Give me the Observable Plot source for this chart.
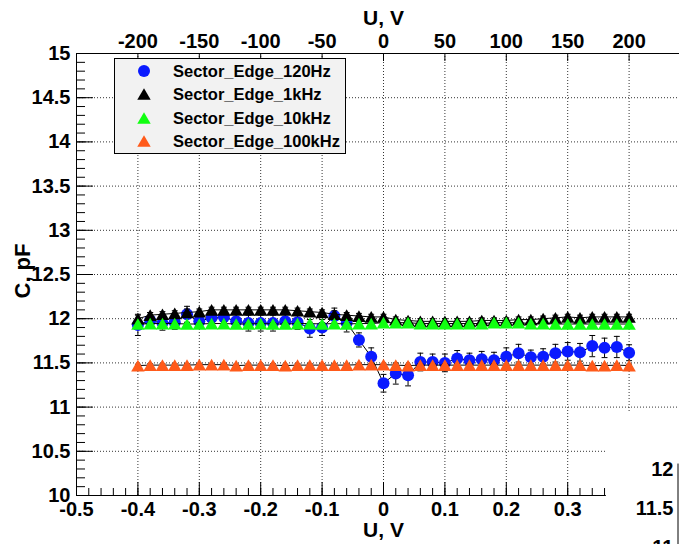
<!DOCTYPE html>
<html>
<head>
<meta charset="utf-8">
<script src="https://cdn.jsdelivr.net/npm/d3@7"></script>
<script src="https://cdn.jsdelivr.net/npm/@observablehq/plot@0.6"></script>
<style>
  html, body { margin: 0; padding: 0; background: #fff; overflow: hidden; }
  #wrap { position: relative; width: 679px; height: 544px; overflow: hidden;
          font-family: "Liberation Sans", Arial, sans-serif; font-weight: bold; }
  #main { position: absolute; left: 0; top: 0; }
  #legend { position: absolute; left: 114px; top: 58px; width: 232px; height: 96px;
            background: #f2f2f2; border: 1px solid #000; box-sizing: border-box; }
  .lrow { position: absolute; left: 0; height: 22px; width: 100%; }
  .lrow svg { position: absolute; left: 20px; top: 2px; }
  .lrow span { position: absolute; left: 58px; top: 0; line-height: 22px; font-size: 16.5px; color: #000; white-space: nowrap; }
  #pad2 { position: absolute; left: 607px; top: 413px; width: 72px; height: 131px; background: #fff; }
</style>
</head>
<body>
<div id="wrap">
  <div id="main"></div>
  <div id="legend"></div>
  <div id="pad2"></div>
</div>
<script>
// ---------------- data ----------------
const U = [-200,-190,-180,-170,-160,-150,-140,-130,-120,-110,-100,-90,-80,-70,-60,-50,-40,-30,-20,-10,
           0,10,20,30,40,50,60,70,80,90,100,110,120,130,140,150,160,170,180,190,200];

const c120 = [11.93,11.98,11.95,11.96,12.05,11.97,12.01,12.02,11.97,11.95,11.95,11.95,11.97,11.96,11.89,11.90,12.03,11.95,11.76,11.57,
              11.27,11.38,11.36,11.51,11.51,11.50,11.55,11.53,11.54,11.53,11.57,11.61,11.565,11.57,11.61,11.63,11.62,11.69,11.67,11.68,11.615];
const e120 = [0.12,0.09,0.08,0.08,0.09,0.08,0.08,0.07,0.08,0.09,0.09,0.09,0.08,0.08,0.10,0.09,0.09,0.10,0.08,0.10,
              0.10,0.12,0.12,0.10,0.09,0.10,0.09,0.08,0.09,0.09,0.10,0.10,0.08,0.09,0.10,0.10,0.10,0.12,0.11,0.12,0.09];

const c1k = [12.00,12.04,12.05,12.06,12.07,12.08,12.10,12.10,12.10,12.10,12.10,12.10,12.10,12.09,12.08,12.07,12.05,12.04,12.03,12.02,
             12.02,11.99,11.98,11.97,11.97,11.97,11.97,11.97,11.98,11.98,11.98,11.99,11.99,12.00,12.01,12.02,12.01,12.02,12.02,12.02,12.02];
const e1k = [0.04,0.03,0.03,0.03,0.04,0.03,0.03,0.03,0.03,0.03,0.03,0.03,0.03,0.03,0.03,0.03,0.04,0.03,0.03,0.03,
             0.03,0.03,0.03,0.03,0.03,0.03,0.03,0.03,0.03,0.03,0.03,0.03,0.03,0.03,0.03,0.03,0.03,0.03,0.03,0.03,0.03];

const c10k = [11.94,11.945,11.945,11.945,11.94,11.94,11.945,11.945,11.94,11.94,11.945,11.94,11.94,11.945,11.945,11.94,11.945,11.94,11.945,11.945,
              11.955,11.955,11.955,11.945,11.945,11.945,11.945,11.945,11.945,11.955,11.955,11.955,11.945,11.945,11.94,11.94,11.94,11.94,11.94,11.94,11.94];
const e10k = [0.015,0.015,0.015,0.015,0.015,0.015,0.015,0.015,0.015,0.015,0.015,0.015,0.015,0.015,0.015,0.015,0.015,0.015,0.015,0.015,
              0.015,0.015,0.015,0.015,0.015,0.015,0.015,0.015,0.015,0.015,0.015,0.015,0.015,0.015,0.015,0.015,0.015,0.015,0.015,0.015,0.015];

const c100k = [11.47,11.475,11.475,11.475,11.475,11.48,11.48,11.48,11.47,11.475,11.475,11.475,11.47,11.475,11.475,11.475,11.475,11.475,11.48,11.48,
               11.48,11.475,11.47,11.475,11.475,11.475,11.475,11.475,11.475,11.475,11.475,11.475,11.475,11.475,11.475,11.475,11.475,11.47,11.47,11.475,11.47];
const e100k = e10k;

const seriesNames = ["Sector_Edge_120Hz", "Sector_Edge_1kHz", "Sector_Edge_10kHz", "Sector_Edge_100kHz"];
const seriesColors = ["#0a1aff", "#000000", "#11ff11", "#ff5a1a"];
const seriesSymbols = ["circle", "triangle", "triangle", "triangle"];
const seriesValues = [c120, c1k, c10k, c100k];
const seriesErrors = [e120, e1k, e10k, e100k];

// axis ticks
const topTicks = [-200,-150,-100,-50,0,50,100,150,200];          // U, V (top axis)
const bottomTicks = [-0.5,-0.4,-0.3,-0.2,-0.1,0,0.1,0.2,0.3];     // U, V (bottom axis)
const bottomMinor = d3.range(-25, 19).map(i => i * 0.02);          // every 0.02 up to 0.36
const bottomAxisEnd = 0.363;
const yMajor = [10,10.5,11,11.5,12,12.5,13,13.5,14,14.5,15];
const yMinor = d3.range(100, 151).map(i => i / 10);
const yGrid = [10.5,11,11.5,12,12.5,13,13.5,14,14.5];
const padTicks = [11, 11.5, 12];
const topPerBottom = 500; // top-axis units per bottom-axis unit

// ---------------- layout ----------------
const W = 679, H = 544, mL = 76, mT = 53, mB = 49;
const innerW = W - mL, innerH = H - mT - mB;
const font = "Liberation Sans, Arial, sans-serif";
const triR = 5.0, dotR = 6.0;

const rows = seriesNames.flatMap((name, s) =>
  U.map((u, i) => ({s, name, u, c: seriesValues[s][i], e: seriesErrors[s][i]})));

const dotted = {stroke: "#000", strokeWidth: 1, strokeDasharray: "1,2", strokeOpacity: 0.8};

const seriesMarks = seriesNames.flatMap((name, s) => {
  const data = rows.filter(d => d.s === s);
  const tri = seriesSymbols[s] === "triangle";
  return [
    Plot.line(data, {x: "u", y: "c", stroke: "#000", strokeWidth: 1}),
    Plot.ruleX(data, {x: "u", y1: d => d.c - d.e, y2: d => d.c + d.e, stroke: "#000", strokeWidth: 1}),
    Plot.link(data, {x1: d => d.u - 2.4, x2: d => d.u + 2.4, y1: d => d.c + d.e, y2: d => d.c + d.e, stroke: "#000"}),
    Plot.link(data, {x1: d => d.u - 2.4, x2: d => d.u + 2.4, y1: d => d.c - d.e, y2: d => d.c - d.e, stroke: "#000"}),
    Plot.dot(data, {x: "u", y: "c", symbol: seriesSymbols[s], r: tri ? triR : dotR,
                    fill: seriesColors[s], stroke: "none", dy: tri ? triR * 0.39 : 0})
  ];
});

const main = Plot.plot({
  width: W, height: H,
  marginLeft: mL, marginRight: 0, marginTop: mT, marginBottom: mB,
  style: {fontFamily: font, fontWeight: "bold", background: "#fff"},
  x: {domain: [-250, -250 + innerW / (61.4 / 50)], axis: null},
  y: {domain: [10, 15], axis: null},
  marks: [
    // grid
    Plot.ruleY(yGrid, {...dotted}),
    Plot.ruleX(topTicks, {y1: 10, y2: 15, ...dotted}),
    // frame
    Plot.ruleX([-250], {y1: 10, y2: 15, stroke: "#000"}),
    Plot.ruleY([15], {stroke: "#000"}),
    Plot.ruleY([10], {x1: -250, x2: bottomAxisEnd * topPerBottom, stroke: "#000"}),
    // left ticks (inward)
    Plot.tickY(yMinor, {y: d => d, insetRight: innerW - 9, stroke: "#000"}),
    Plot.tickY(yMajor, {y: d => d, insetRight: innerW - 17, stroke: "#000"}),
    // bottom ticks (inward)
    Plot.tickX(bottomMinor, {x: v => v * topPerBottom, insetTop: innerH - 7, stroke: "#000"}),
    Plot.tickX(bottomTicks, {x: v => v * topPerBottom, insetTop: innerH - 13, stroke: "#000"}),
    // top ticks (inward)
    Plot.tickX(topTicks, {x: d => d, insetBottom: innerH - 8, stroke: "#000"}),
    // data
    ...seriesMarks,
    // tick labels
    Plot.text(yMajor, {y: d => d, text: d => String(d), frameAnchor: "left", dx: -6, textAnchor: "end",
                       lineAnchor: "middle", fontSize: 20, fontWeight: "bold", fill: "#000"}),
    Plot.text(bottomTicks, {x: v => v * topPerBottom, text: v => String(v), frameAnchor: "bottom", dy: 14,
                            lineAnchor: "middle", fontSize: 20, fontWeight: "bold", fill: "#000"}),
    Plot.text(topTicks, {x: d => d, text: d => String(d), frameAnchor: "top", dy: -12,
                         lineAnchor: "middle", fontSize: 20, fontWeight: "bold", fill: "#000"}),
    // axis titles
    Plot.text(["U, V"], {frameAnchor: "top", dx: 5.5, dy: -35, lineAnchor: "middle", fontSize: 21, fontWeight: "bold"}),
    Plot.text(["U, V"], {frameAnchor: "bottom", dx: 5.5, dy: 35, lineAnchor: "middle", fontSize: 21, fontWeight: "bold"}),
    Plot.text(["C, pF"], {frameAnchor: "left", dx: -54, dy: 24, rotate: -90, lineAnchor: "middle", fontSize: 22, fontWeight: "bold"})
  ]
});
document.getElementById("main").append(main);

// ---------------- legend ----------------
const legend = d3.select("#legend");
seriesNames.forEach((name, s) => {
  const row = legend.append("div").attr("class", "lrow").style("top", (1 + s * 23.4) + "px");
  const svg = row.append("svg").attr("width", 18).attr("height", 18);
  const tri = seriesSymbols[s] === "triangle";
  const r = tri ? triR : dotR;
  const sym = d3.symbol(tri ? d3.symbolTriangle : d3.symbolCircle, Math.PI * r * r);
  svg.append("path").attr("d", sym()).attr("fill", seriesColors[s])
     .attr("transform", `translate(9,${tri ? 9 + r * 0.39 : 9})`);
  row.append("span").text(name);
});

// ---------------- overlapping second pad (bottom-right) ----------------
const pad = Plot.plot({
  width: 72, height: 131, margin: 0,
  style: {fontFamily: font, fontWeight: "bold", background: "#fff"},
  x: {domain: [0, 1], range: [70.5, 80], axis: null},
  y: {domain: [11, 12], range: [134, 56], axis: null},
  marks: [
    Plot.ruleX([0], {y1: 10.8, y2: 12.07, stroke: "#000"}),
    Plot.text(padTicks, {y: d => d, text: d => String(d), frameAnchor: "right", dx: -6, textAnchor: "end",
                         lineAnchor: "middle", fontSize: 20, fontWeight: "bold", fill: "#000"})
  ]
});
document.getElementById("pad2").append(pad);
</script>
</body>
</html>
